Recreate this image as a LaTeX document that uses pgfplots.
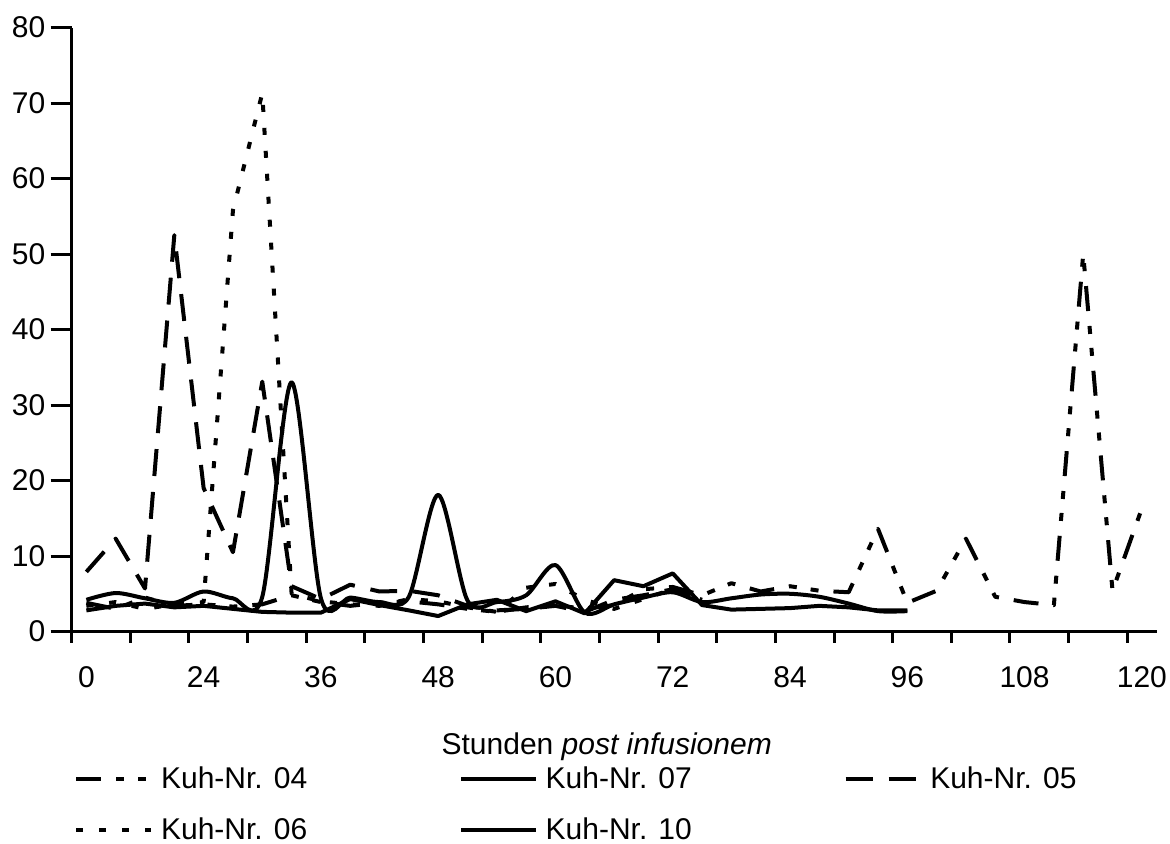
\documentclass[border=0pt]{standalone}
\usepackage{fontspec}
\setmainfont{Liberation Sans}
\usepackage{pgfplots}
\pgfplotsset{compat=1.18}
\begin{document}
\begin{tikzpicture}
\begin{axis}[
  at={(0pt,0pt)}, anchor=south west,
  scale only axis, width=542.4pt, height=302pt,
  xmin=-0.5, xmax=36.5, ymin=0, ymax=80,
  axis x line*=bottom, axis y line*=left,
  axis line style={line width=1.5pt},
  every tick/.style={line width=1.5pt, black},
  tick align=outside,
  major tick length=5.5pt,
  xtick={-0.5,1.5,...,35.5}, xticklabels={},
  extra x ticks={0,4,8,12,16,20,24,28,32,36},
  extra x tick labels={0,24,36,48,60,72,84,96,108,120},
  extra x tick style={major tick length=0pt, xticklabel style={anchor=north, inner sep=0pt, yshift=-17.25pt}},
  ytick=\empty,
  extra y ticks={0,10,20,30,40,50,60,70,80},
  extra y tick style={major tick length=10.5pt, yticklabel style={anchor=east, inner sep=0pt, xshift=-2.5pt}},
  tick label style={font=\fontsize{15}{18}\selectfont},
  /pgf/number format/assume math mode=true,
  xlabel={Stunden \textit{post infusionem}},
  xlabel style={at={(axis description cs:0.4932,-0.2033)}, anchor=base, inner sep=0pt, font=\fontsize{15}{18}\selectfont},
  clip=false,
  legend columns=3,
  legend cell align=left,
  legend style={draw=none, fill=none, at={(axis description cs:0.0022,-0.2230)}, anchor=north west,
    font=\fontsize{15}{18}\selectfont, inner sep=0pt, row sep=13pt, nodes={inner sep=0pt},
    /tikz/every odd column/.append style={column sep=3.8pt}},
  legend image code/.code={\draw[#1] (0pt,0pt) -- (37.5pt,0pt);},
  every axis plot/.append style={line width=2pt, black, line join=round},
]
\addplot[dash pattern=on 12.5pt off 7.5pt on 4pt off 7pt on 4pt off 7.5pt] coordinates {
(0,3.8)(1,3.0)(2,4.5)(3,3.4)(4,3.6)(5,3.3)(6,3.6)(7,4.8)(8,3.9)(9,3.4)(10,3.8)(11,4.0)(12,3.6)(13,3.0)(14,2.6)(15,3.2)(16,3.5)(17,3.0)(18,3.5)(19,5.6)(20,5.9)(21,4.8)(22,6.4)(23,5.3)(24,6.0)(25,5.4)(26,5.2)(27,13.6)(28,3.8)(29,5.4)(30,12.3)(31,4.6)(32,3.9)(33,3.5)(34,50.0)(35,5.4)(36,16.3)};
\addlegendentry{\makebox[149pt][l]{Kuh-Nr. 04}}
\addplot[solid] coordinates {
(0,2.8)(1,3.4)(2,3.7)(3,3.2)(4,3.4)(5,3.0)(6,2.6)(7,2.5)(8,2.5)(9,4.3)(10,3.5)(11,2.8)(12,2.05)(13,3.6)(14,4.2)(15,2.7)(16,4.0)(17,2.4)(18,6.8)(19,6.0)(20,7.7)(21,3.5)(22,2.9)(23,3.0)(24,3.1)(25,3.4)(26,3.2)(27,2.8)(28,2.8)};
\addlegendentry{\makebox[149pt][l]{Kuh-Nr. 07}}
\addplot[dash pattern=on 13.5pt off 8pt] coordinates {
(0,7.9)(1,12.3)(2,5.7)(3,52.5)(4,19.0)(5,10.5)(6,33.1)(7,6.0)(8,4.3)(9,6.2)(10,5.3)(11,5.4)(12,4.8)(13,3.4)(14,2.8)(15,3.0)(16,3.4)(17,2.6)(18,4.2)(19,4.8)(20,5.6)(21,4.2)};
\addlegendentry{Kuh-Nr. 05}
\addplot[dash pattern=on 3.5pt off 8pt] coordinates {
(0,3.4)(1,3.9)(2,3.0)(3,3.6)(4,3.9)(5,55.8)(6,71.3)(7,5.0)(8,4.0)(9,3.6)(10,3.4)(11,4.3)(12,4.0)(13,3.2)(14,2.6)(15,5.8)(16,6.3)(17,4.2)(18,3.0)(19,4.3)(20,5.6)(21,4.2)};
\addlegendentry{\makebox[149pt][l]{Kuh-Nr. 06}}
\addplot[solid, smooth, tension=0.5] coordinates {
(0,4.2)(1,5.1)(2,4.4)(3,3.8)(4,5.3)(5,4.4)(6,4.6)(7,33.0)(8,4.4)(9,4.5)(10,3.9)(11,4.6)(12,18.1)(13,4.1)(14,3.9)(15,4.8)(16,8.8)(17,2.5)(18,3.6)(19,4.5)(20,5.2)(21,3.9)(22,4.4)(23,4.9)(24,5.0)(25,4.6)(26,3.7)(27,2.7)(28,2.7)};
\addlegendentry{\makebox[149pt][l]{Kuh-Nr. 10}}
\end{axis}
\path (-35.85pt,-105.75pt) rectangle (549.15pt,315.75pt);
\end{tikzpicture}
\end{document}
